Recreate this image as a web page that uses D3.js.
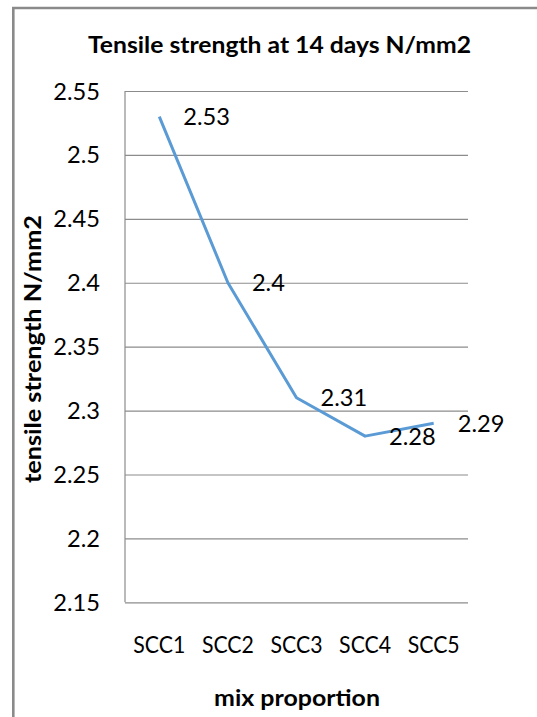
<!DOCTYPE html>
<html>
<head>
<meta charset="utf-8">
<script src="https://cdn.jsdelivr.net/npm/d3@7"></script>
<style>
  html, body { margin: 0; padding: 0; background: #ffffff; }
  svg { display: block; }
</style>
</head>
<body>
<svg id="chart" width="537" height="717"></svg>
<script>
// Tensile strength at 14 days for each SCC mix
const categories = ["SCC1", "SCC2", "SCC3", "SCC4", "SCC5"];
const strengths = [2.53, 2.4, 2.31, 2.28, 2.29];
const yTicks = [2.15, 2.2, 2.25, 2.3, 2.35, 2.4, 2.45, 2.5, 2.55];
const chartTitle = "Tensile strength at 14 days N/mm2";
const xTitle = "mix proportion";
const yTitle = "tensile strength N/mm2";

const W = 537, H = 717;
const plot = { left: 125, right: 468, top: 91, bottom: 602.3 };
const FONT = "Lato, 'Open Sans', sans-serif";
const lineColor = "#5b9bd5";
const gridColor = "#8c8c8c";

const svg = d3.select("#chart");

// Fit a text element's font size so its rendered width equals target
function fitWidth(sel, target) {
  const node = sel.node();
  const fs = parseFloat(sel.attr("font-size"));
  const w = node.getComputedTextLength();
  if (w > 0) sel.attr("font-size", (fs * target / w).toFixed(2));
  return sel;
}

const x = d3.scalePoint()
  .domain(categories)
  .range([plot.left, plot.right])
  .padding(0.5);

const y = d3.scaleLinear()
  .domain([2.15, 2.55])
  .range([plot.bottom, plot.top]);

// Outer frame (top and left edges visible)
svg.append("path")
  .attr("d", `M13.3,${H} L13.3,8 L${W},8`)
  .attr("fill", "none")
  .attr("stroke", "#8a8a8a")
  .attr("stroke-width", 2.6);

// Horizontal gridlines
const yAxis = d3.axisLeft(y)
  .tickValues(yTicks)
  .tickSize(-(plot.right - plot.left))
  .tickFormat(d3.format(""));

const gy = svg.append("g")
  .attr("transform", `translate(${plot.left},0)`)
  .call(yAxis);
gy.select(".domain").remove();
gy.selectAll(".tick line")
  .attr("stroke", gridColor)
  .attr("stroke-width", 1.2);
gy.selectAll(".tick text").remove();

// Vertical axis line
svg.append("line")
  .attr("x1", plot.left).attr("x2", plot.left)
  .attr("y1", y(2.55)).attr("y2", y(2.15))
  .attr("stroke", gridColor)
  .attr("stroke-width", 1.2);

// Y tick labels
const tickFs = (() => {
  const t = svg.append("text").attr("font-family", FONT).attr("font-size", 24).text("2.55");
  fitWidth(t, 46.7);
  const fs = parseFloat(t.attr("font-size"));
  t.remove();
  return fs;
})();

svg.append("g").selectAll("text")
  .data(yTicks)
  .join("text")
  .attr("x", 100)
  .attr("y", d => y(d) + tickFs * 0.36)
  .attr("text-anchor", "end")
  .attr("font-family", FONT)
  .attr("font-size", tickFs)
  .attr("fill", "#000")
  .text(d => d3.format("")(d));

// X tick labels: same size as the numbers, condensed to the narrower width
svg.append("g").selectAll("text")
  .data(categories)
  .join("text")
  .attr("x", d => x(d))
  .attr("y", 653.3)
  .attr("text-anchor", "middle")
  .attr("font-family", FONT)
  .attr("font-size", tickFs)
  .attr("textLength", 52)
  .attr("lengthAdjust", "spacingAndGlyphs")
  .attr("fill", "#000")
  .text(d => d);

// Data line
const line = d3.line()
  .x((d, i) => x(categories[i]))
  .y(d => y(d));

svg.append("path")
  .datum(strengths)
  .attr("d", line)
  .attr("fill", "none")
  .attr("stroke", lineColor)
  .attr("stroke-width", 3)
  .attr("stroke-linejoin", "round");

// Value labels to the right of each point
svg.append("g").selectAll("text")
  .data(strengths)
  .join("text")
  .attr("x", (d, i) => x(categories[i]) + 24)
  .attr("y", d => y(d) + tickFs * 0.36)
  .attr("font-family", FONT)
  .attr("font-size", tickFs)
  .attr("fill", "#000")
  .text(d => d3.format("")(d));

// Chart title
const title = svg.append("text")
  .attr("x", 279.5)
  .attr("y", 53)
  .attr("text-anchor", "middle")
  .attr("font-family", FONT)
  .attr("font-weight", "bold")
  .attr("font-size", 23)
  .attr("textLength", 383)
  .attr("lengthAdjust", "spacingAndGlyphs")
  .attr("fill", "#000")
  .text(chartTitle);

// X axis title
svg.append("text")
  .attr("x", 297)
  .attr("y", 706)
  .attr("text-anchor", "middle")
  .attr("font-family", FONT)
  .attr("font-weight", "bold")
  .attr("font-size", 23)
  .attr("textLength", 166)
  .attr("lengthAdjust", "spacingAndGlyphs")
  .attr("fill", "#000")
  .text(xTitle);

// Y axis title
svg.append("text")
  .attr("transform", `translate(41,349) rotate(-90)`)
  .attr("text-anchor", "middle")
  .attr("font-family", FONT)
  .attr("font-weight", "bold")
  .attr("font-size", 23)
  .attr("textLength", 268)
  .attr("lengthAdjust", "spacingAndGlyphs")
  .attr("fill", "#000")
  .text(yTitle);
</script>
</body>
</html>
